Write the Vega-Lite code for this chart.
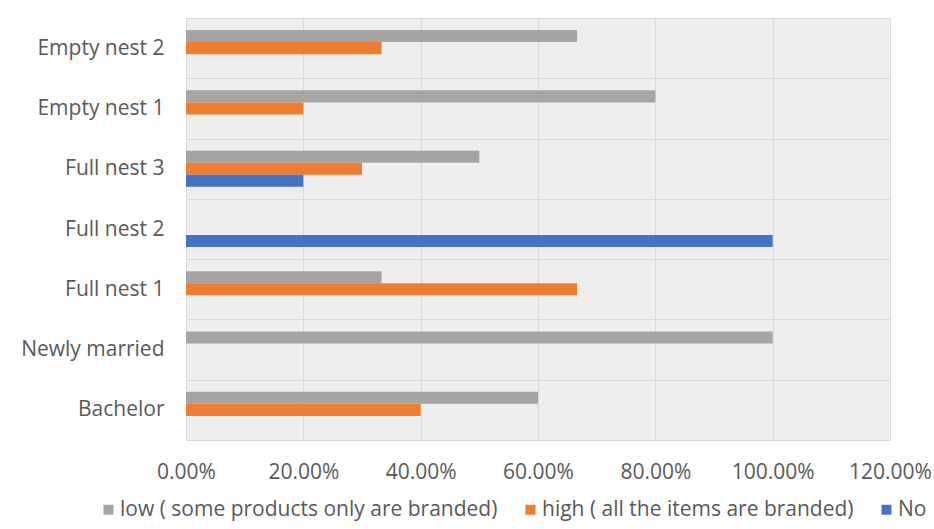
{
  "$schema": "https://vega.github.io/schema/vega-lite/v6.json",
  "width": 704,
  "height": 422,
  "autosize": {"type": "none"},
  "padding": {"left": 186, "top": 18, "right": 44, "bottom": 89},
  "background": "white",
  "config": {
    "view": {"fill": "#eeeeee", "stroke": "#d9d9d9", "strokeWidth": 1},
    "font": "Open Sans"
  },
  "data": {
    "values": [
      {"stage": "Empty nest 2", "series": "low ( some products only are branded)", "value": 0.6667},
      {"stage": "Empty nest 2", "series": "high ( all the items are branded)", "value": 0.3333},
      {"stage": "Empty nest 1", "series": "low ( some products only are branded)", "value": 0.8},
      {"stage": "Empty nest 1", "series": "high ( all the items are branded)", "value": 0.2},
      {"stage": "Full nest 3", "series": "low ( some products only are branded)", "value": 0.5},
      {"stage": "Full nest 3", "series": "high ( all the items are branded)", "value": 0.3},
      {"stage": "Full nest 3", "series": "No", "value": 0.2},
      {"stage": "Full nest 2", "series": "No", "value": 1.0},
      {"stage": "Full nest 1", "series": "low ( some products only are branded)", "value": 0.3333},
      {"stage": "Full nest 1", "series": "high ( all the items are branded)", "value": 0.6667},
      {"stage": "Newly married", "series": "low ( some products only are branded)", "value": 1.0},
      {"stage": "Bachelor", "series": "low ( some products only are branded)", "value": 0.6},
      {"stage": "Bachelor", "series": "high ( all the items are branded)", "value": 0.4}
    ]
  },
  "mark": {"type": "bar"},
  "encoding": {
    "y": {
      "field": "stage",
      "type": "nominal",
      "sort": ["Empty nest 2", "Empty nest 1", "Full nest 3", "Full nest 2", "Full nest 1", "Newly married", "Bachelor"],
      "scale": {"paddingInner": 0, "paddingOuter": 0},
      "axis": {
        "title": null,
        "tickBand": "extent",
        "grid": true,
        "gridColor": "#d9d9d9",
        "ticks": false,
        "domain": false,
        "labelFontSize": 21,
        "labelColor": "#595959",
        "labelPadding": 22
      }
    },
    "x": {
      "field": "value",
      "type": "quantitative",
      "scale": {"domain": [0, 1.2]},
      "axis": {
        "title": null,
        "values": [0, 0.2, 0.4, 0.6, 0.8, 1.0, 1.2],
        "format": ".2%",
        "grid": true,
        "gridColor": "#d9d9d9",
        "ticks": false,
        "domain": false,
        "labelFontSize": 21,
        "labelColor": "#595959",
        "labelPadding": 21,
        "labelOverlap": false,
        "labelBound": false,
        "labelFlush": false
      }
    },
    "yOffset": {
      "field": "series",
      "type": "nominal",
      "sort": ["low ( some products only are branded)", "high ( all the items are branded)", "No"],
      "scale": {"paddingInner": 0, "paddingOuter": 1.5}
    },
    "color": {
      "field": "series",
      "type": "nominal",
      "scale": {
        "domain": ["low ( some products only are branded)", "high ( all the items are branded)", "No"],
        "range": ["#a5a5a5", "#ed7d31", "#4472c4"]
      },
      "legend": {
        "title": null,
        "orient": "none",
        "direction": "horizontal",
        "legendX": -88,
        "legendY": 481,
        "padding": 0,
        "symbolType": "square",
        "symbolSize": 100,
        "symbolStrokeWidth": 0,
        "labelFontSize": 21,
        "labelColor": "#595959",
        "labelOffset": 1,
        "columnPadding": 22,
        "labelLimit": 500
      }
    }
  }
}
